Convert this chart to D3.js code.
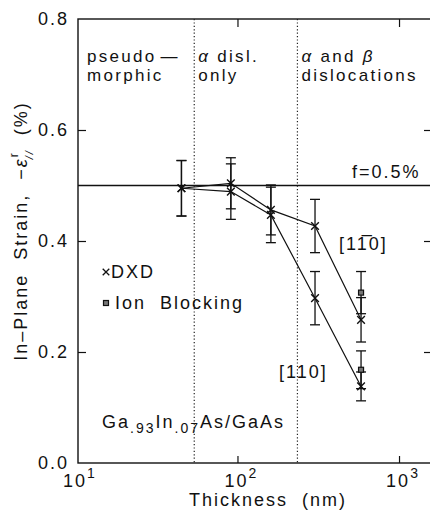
<!DOCTYPE html>
<html><head><meta charset="utf-8">
<script src="https://cdn.jsdelivr.net/npm/d3@7"></script>
<style>
html,body{margin:0;padding:0;background:#fff;}
svg text{font-family:"Liberation Sans",Arial,sans-serif;fill:#111;}
</style></head>
<body><svg id="c" width="430" height="517"></svg>
<script>
// ---- data ----
const thickness = [45, 91, 161, 302, 582];
const dxd1m10 = [0.495, 0.504, 0.456, 0.427, 0.258];
const dxd1m10Err = [0.05, 0.046, 0.045, 0.048, 0.04];
const dxd110 = [0.495, 0.489, 0.447, 0.297, 0.138];
const dxd110Err = [0.05, 0.05, 0.05, 0.048, 0.026];
const ionThickness = [582, 582];
const ionValues = [0.307, 0.168];
const ionErr = [0.038, 0.034];
const regionBounds = [54, 235];
const yTicks = [0.0, 0.2, 0.4, 0.6, 0.8];
const xTicks = [10, 100, 1000];
const xTickExp = ["1", "2", "3"];
const strainF = 0.5;

const svg = d3.select("#c");
const L = 78, R = 432, T = 19, B = 463;
const x = d3.scaleLog().domain([10.3, 1600]).range([L, R]);
const y = d3.scaleLinear().domain([0, 0.8]).range([B, T]);
const FS = 18, LS = 2;

// frame
const g = svg.append("g").attr("stroke", "#111").attr("fill", "none");
g.append("rect").attr("x", L).attr("y", T).attr("width", R - L).attr("height", B - T).attr("stroke-width", 1.4);

// axes via d3 axis (inward ticks)
const axB = d3.axisBottom(x).tickValues([100, 1000]).tickSize(-7).tickFormat("");
const axT = d3.axisTop(x).tickValues([100, 1000]).tickSize(-8).tickFormat("");
const axL = d3.axisLeft(y).tickValues([0.2, 0.4, 0.6]).tickSize(-8).tickFormat("");
const axR = d3.axisRight(y).tickValues([0.2, 0.4, 0.6]).tickSize(-8).tickFormat("");
[[axB, `translate(0,${B})`], [axT, `translate(0,${T})`], [axL, `translate(${L},0)`], [axR, `translate(${R},0)`]].forEach(([a, t]) => {
  const gg = svg.append("g").attr("transform", t).call(a);
  gg.select(".domain").remove();
  gg.selectAll("line").attr("stroke", "#111").attr("stroke-width", 1.2);
});

// y tick labels
svg.append("g").selectAll("text").data(yTicks).join("text")
  .attr("x", 69).attr("y", d => y(d) + 6).attr("text-anchor", "end")
  .attr("font-size", FS).attr("letter-spacing", LS).text(d => d.toFixed(1));

// x tick labels
const xl = svg.append("g").selectAll("text").data(xTicks).join("text")
  .attr("x", d => x(d) + 4).attr("y", 487).attr("text-anchor", "middle").attr("font-size", FS).attr("letter-spacing", LS);
xl.append("tspan").text("10");
xl.append("tspan").attr("dy", -9).attr("font-size", 14).text((d, i) => xTickExp[i]);

// axis titles
svg.append("text").attr("x", 268).attr("y", 506).attr("text-anchor", "middle")
  .attr("font-size", FS).attr("letter-spacing", LS).attr("xml:space", "preserve").text("Thickness  (nm)");

const yt = svg.append("text").attr("transform", "translate(27,231) rotate(-90)")
  .attr("text-anchor", "middle").attr("font-size", FS).attr("letter-spacing", LS).attr("xml:space", "preserve");
yt.append("tspan").text("In\u2013Plane  Strain,  \u2212");
yt.append("tspan").attr("font-style", "italic").text("\u03b5");
yt.append("tspan").attr("font-size", 12).attr("dy", -9).text("r");
yt.append("tspan").attr("font-size", 11).attr("dx", -8).attr("dy", 15).attr("font-style", "italic").text("//");
yt.append("tspan").attr("dy", -6).text("  (%)");

// region dividers
svg.append("g").selectAll("line").data(regionBounds).join("line")
  .attr("x1", d => x(d)).attr("x2", d => x(d)).attr("y1", T).attr("y2", B)
  .attr("stroke", "#222").attr("stroke-width", 1.2).attr("stroke-dasharray", "1.2,2.2");

// region labels
const RFS = 17, RLS = 2.3;
const regions = [
  [30, ["pseudo\u2014", "morphic"]],
  [regionBounds[0], ["\u03b1 disl.", "only"]],
  [regionBounds[1], ["\u03b1 and \u03b2", "dislocations"]]
];
regions.forEach(([v, lines], i) => {
  const x0 = i === 0 ? 87 : x(v) + 4;
  lines.forEach((ln, j) => {
    const t = svg.append("text").attr("x", x0).attr("y", 62 + j * 19).attr("font-size", RFS).attr("letter-spacing", RLS);
    ln.split(/([\u03b1\u03b2\u2014])/).forEach(p => {
      if (!p) return;
      const s = t.append("tspan").text(p);
      if (/[\u03b1\u03b2]/.test(p)) s.attr("font-style", "italic");
      if (p === "\u2014") s.attr("dx", 4);
    });
  });
});

// f line
svg.append("line").attr("x1", L).attr("x2", R).attr("y1", y(strainF)).attr("y2", y(strainF))
  .attr("stroke", "#111").attr("stroke-width", 1.3);
svg.append("text").attr("x", 352).attr("y", 178).attr("font-size", FS).attr("letter-spacing", LS).text("f=0.5%");

// error bars
function errBars(xs, vs, es) {
  const eg = svg.append("g").attr("stroke", "#111").attr("stroke-width", 1.3);
  xs.forEach((t, i) => {
    const cx = x(t), y1 = y(vs[i] + es[i]), y2 = y(vs[i] - es[i]);
    eg.append("line").attr("x1", cx).attr("x2", cx).attr("y1", y1).attr("y2", y2);
    eg.append("line").attr("x1", cx - 5).attr("x2", cx + 5).attr("y1", y1).attr("y2", y1);
    eg.append("line").attr("x1", cx - 5).attr("x2", cx + 5).attr("y1", y2).attr("y2", y2);
  });
}
errBars(thickness, dxd1m10, dxd1m10Err);
errBars(thickness, dxd110, dxd110Err);
errBars(ionThickness, ionValues, ionErr);

// lines
const line = d3.line().x(d => x(d[0])).y(d => y(d[1]));
[dxd1m10, dxd110].forEach(vs => {
  svg.append("path").datum(thickness.map((t, i) => [t, vs[i]])).attr("d", line)
    .attr("fill", "none").attr("stroke", "#111").attr("stroke-width", 1.2);
});

// x markers
const cross = d3.symbol().type(d3.symbolX).size(40);
[dxd1m10, dxd110].forEach(vs => {
  svg.append("g").selectAll("path").data(thickness.map((t, i) => [t, vs[i]])).join("path")
    .attr("transform", d => `translate(${x(d[0])},${y(d[1])})`).attr("d", cross)
    .attr("fill", "none").attr("stroke", "#111").attr("stroke-width", 1.4);
});
// square markers
svg.append("g").selectAll("rect").data(ionThickness.map((t, i) => [t, ionValues[i]])).join("rect")
  .attr("x", d => x(d[0]) - 2.5).attr("y", d => y(d[1]) - 2.5).attr("width", 5).attr("height", 5)
  .attr("fill", "#777").attr("stroke", "#111").attr("stroke-width", 1.2);

// series labels
const lab1 = svg.append("text").attr("x", 339).attr("y", 250).attr("font-size", FS).attr("letter-spacing", LS);
lab1.append("tspan").text("[1");
lab1.append("tspan").text("1\u0305");
lab1.append("tspan").text("0]");
svg.append("text").attr("x", 279).attr("y", 378).attr("font-size", FS).attr("letter-spacing", LS).text("[110]");

// legend
svg.append("path").attr("transform", `translate(106,272)`).attr("d", d3.symbol().type(d3.symbolX).size(30))
  .attr("fill", "none").attr("stroke", "#111").attr("stroke-width", 1.3);
svg.append("text").attr("x", 111).attr("y", 278).attr("font-size", FS).attr("letter-spacing", LS).text("DXD");
svg.append("rect").attr("x", 103.5).attr("y", 300.5).attr("width", 5).attr("height", 5)
  .attr("fill", "#777").attr("stroke", "#111").attr("stroke-width", 1.2);
svg.append("text").attr("x", 115).attr("y", 309).attr("font-size", FS).attr("letter-spacing", LS).attr("xml:space", "preserve").text("Ion  Blocking");

// composition label
const comp = svg.append("text").attr("x", 102).attr("y", 428).attr("font-size", FS).attr("letter-spacing", LS);
comp.append("tspan").text("Ga");
comp.append("tspan").attr("dy", 5).attr("font-size", 14).text(".93");
comp.append("tspan").attr("dy", -5).text("In");
comp.append("tspan").attr("dy", 5).attr("font-size", 14).text(".07");
comp.append("tspan").attr("dy", -5).text("As/GaAs");
</script></body></html>
